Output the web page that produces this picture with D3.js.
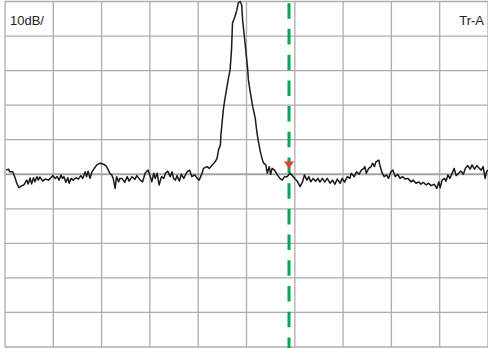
<!DOCTYPE html>
<html>
<head>
<meta charset="utf-8">
<script src="https://cdn.jsdelivr.net/npm/d3@7"></script>
<style>
html,body{margin:0;padding:0;background:#fff;}
svg{display:block;}
</style>
</head>
<body>
<div id="chart"></div>
<script>
// ---- data ----
const scaleLabel = "10dB/";
const traceLabel = "Tr-A";
const freqDomain = [0, 100];      // frequency span (arbitrary units)
const levelDomain = [-100, 0];    // dB, 10 dB / div
const xTicks = d3.range(0, 101, 10);
const yTicks = d3.range(-100, 1, 10);
const markerFreq = 58.8;
const markerLevel = -48.3;

const freq = [
 0.2,0.7,1.0,1.6,2.1,2.4,2.9,3.5,3.9,4.5,4.8,5.2,5.5,5.9,6.2,6.6,6.9,7.2,7.8,8.3,9.0,9.5,9.9,10.4,10.8,11.2,11.6,11.9,12.2,12.6,13.0,13.3,13.7,14.1,14.7,15.2,15.7,16.1,16.6,16.9,17.2,17.6,18.0,18.4,19.0,19.7,20.4,20.9,21.4,21.7,22.1,22.4,22.8,23.1,23.5,23.8,
 24.2,24.8,25.3,25.7,26.3,26.9,27.3,28.0,28.5,29.0,29.6,30.1,30.4,30.8,31.1,31.5,31.9,32.4,32.9,33.2,33.7,34.2,34.6,34.9,35.3,35.6,36.1,36.5,37.0,37.7,38.2,38.7,39.3,39.8,40.2,40.8,41.1,41.8,42.3,42.9,43.5,43.9,44.2,44.6,
 44.7,45.0,45.2,45.5,46.2,46.6,46.9,47.1,47.6,48.0,48.3,48.7,49.0,49.2,49.7,50.2,50.4,50.7,51.3,51.8,52.1,52.4,52.6,52.8,53.2,53.5,54.0,54.3,54.7,55.0,55.3,55.8,56.4,56.9,57.4,57.9,58.4,59.0,59.5,60.0,60.5,61.1,61.6,62.0,62.5,62.9,63.3,63.8,64.3,64.8,65.2,65.7,66.2,66.7,67.3,67.8,68.3,68.8,69.4,69.8,70.3,70.9,71.4,71.7,72.3,72.8,73.3,73.8,74.3,74.5,74.8,
 75.3,75.8,76.1,76.5,76.8,77.4,77.6,78.1,78.5,79.0,79.4,79.9,80.3,80.8,81.3,81.8,82.3,82.9,83.4,84.1,84.5,85.1,85.7,86.1,86.6,87.2,87.7,88.2,88.9,89.4,89.8,90.1,90.5,91.0,91.3,91.7,92.1,92.7,93.0,93.4,93.9,94.4,94.9,95.3,95.8,96.3,96.7,97.2,97.7,98.2,98.6,99.0,99.4,99.7,100.0
];
const level = [
 -48.8,-48.5,-49.3,-49.3,-51.1,-52.5,-53.9,-53.3,-53.1,-51.7,-52.8,-51.1,-52.8,-51.0,-52.2,-50.7,-51.7,-50.8,-52.0,-51.4,-51.7,-51.0,-50.4,-51.2,-50.7,-51.7,-50.2,-51.2,-50.7,-52.3,-51.0,-52.6,-51.2,-51.7,-51.0,-51.4,-50.4,-51.2,-49.3,-50.7,-49.1,-51.2,-49.3,-48.5,-47.3,-46.8,-47.1,-47.5,-48.8,-49.7,-50.2,-51.2,-54.1,-50.7,-52.2,-51.2,
 -51.2,-52.3,-50.7,-52.0,-50.7,-51.5,-50.4,-51.7,-52.2,-49.7,-48.8,-50.7,-52.2,-49.7,-51.2,-49.7,-53.1,-50.7,-51.2,-49.7,-49.1,-50.7,-49.3,-51.2,-51.7,-50.4,-52.0,-50.0,-51.2,-49.3,-48.8,-50.7,-50.2,-51.2,-51.7,-49.7,-48.3,-47.8,-48.3,-47.3,-46.4,-45.4,-43.0,-41.5,
 -38.6,-34.3,-31.4,-28.5,-22.7,-19.8,-14.0,-6.2,-4.4,-2.5,-0.4,0.0,-1.0,-5.4,-12.0,-18.9,-22.7,-25.6,-30.5,-33.7,-37.2,-40.1,-41.5,-43.0,-45.4,-46.7,-47.3,-49.7,-47.8,-50.0,-48.3,-48.8,-50.2,-51.2,-51.7,-50.7,-50.7,-49.7,-50.4,-51.2,-52.0,-53.6,-52.2,-50.2,-51.7,-50.7,-52.2,-51.2,-52.0,-51.2,-52.3,-51.2,-52.2,-51.2,-52.6,-51.7,-52.9,-51.4,-52.6,-51.2,-52.3,-50.7,-51.2,-49.7,-50.7,-49.3,-50.0,-48.8,-48.3,-47.8,-49.7,
 -48.3,-47.8,-46.8,-47.8,-46.4,-45.9,-47.3,-49.7,-50.7,-50.2,-51.2,-49.3,-48.8,-50.7,-50.0,-51.2,-50.7,-51.4,-51.2,-52.2,-51.7,-52.6,-52.2,-52.9,-52.3,-53.1,-52.6,-53.3,-52.9,-54.1,-52.2,-53.9,-51.7,-51.2,-52.0,-50.2,-51.2,-49.3,-48.3,-50.4,-49.7,-49.1,-50.0,-48.3,-47.5,-48.5,-47.3,-48.5,-47.5,-48.3,-48.8,-47.8,-51.2,-49.3,-48.8
];

// ---- layout ----
const W = 488, H = 348;
const plot = {left: 5, right: 488, top: 1.5, bottom: 347};

const svg = d3.select("#chart").append("svg")
  .attr("width", W).attr("height", H)
  .style("font-family", "'Liberation Sans', Arial, sans-serif");

const x = d3.scaleLinear().domain(freqDomain).range([plot.left, plot.right]);
const y = d3.scaleLinear().domain(levelDomain).range([plot.bottom, plot.top]);

// grid
const grid = svg.append("g");
grid.selectAll("line.v").data(xTicks).join("line")
  .attr("class", "v")
  .attr("x1", d => x(d)).attr("x2", d => x(d))
  .attr("y1", plot.top).attr("y2", plot.bottom)
  .attr("stroke", "#acacac").attr("stroke-width", 1.3);
grid.selectAll("line.h").data(yTicks).join("line")
  .attr("class", "h")
  .attr("x1", plot.left).attr("x2", plot.right)
  .attr("y1", d => y(d)).attr("y2", d => y(d))
  .attr("stroke", d => d === -50 ? "#a4a4a4" : "#acacac")
  .attr("stroke-width", d => d === -50 ? 2.2 : 1.3);

// labels
svg.append("text").attr("x", 10).attr("y", 25)
  .attr("font-size", 13).attr("fill", "#222").text(scaleLabel);
svg.append("text").attr("x", 484).attr("y", 24.5)
  .attr("text-anchor", "end")
  .attr("font-size", 13).attr("fill", "#222").text(traceLabel);

// marker dashed line
svg.append("line")
  .attr("x1", x(markerFreq)).attr("x2", x(markerFreq))
  .attr("y1", 3.3).attr("y2", H)
  .attr("stroke", "#00a651").attr("stroke-width", 3)
  .attr("stroke-dasharray", "15.5,10.2");

// trace
const pts = freq.map((f, i) => [f, level[i]]);
svg.append("path").datum(pts)
  .attr("d", d3.line().x(d => x(d[0])).y(d => y(d[1])))
  .attr("fill", "none").attr("stroke", "#1a1a1a")
  .attr("stroke-width", 1.5).attr("stroke-linejoin", "round");

// marker triangle
const mx = x(markerFreq), my = y(markerLevel);
svg.append("path")
  .attr("d", `M${mx - 5},${my - 7}L${mx + 5},${my - 7}L${mx},${my}Z`)
  .attr("fill", "#ee3b2b");
</script>
</body>
</html>
